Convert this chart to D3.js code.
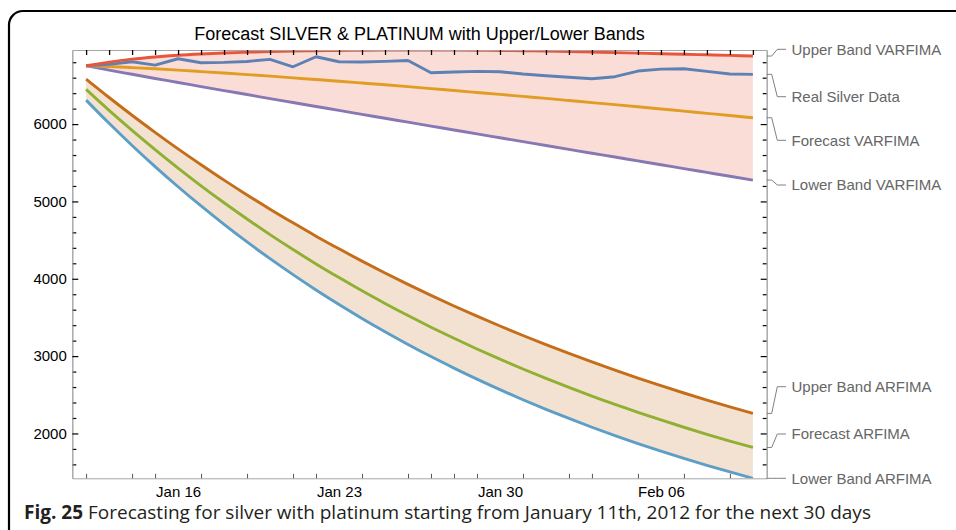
<!DOCTYPE html>
<html>
<head>
<meta charset="utf-8">
<script src="https://cdn.jsdelivr.net/npm/d3@7"></script>
<style>
  body { margin: 0; background: #fff; }
  svg { display: block; }
  text { font-family: "Liberation Sans", Arial, sans-serif; }
</style>
</head>
<body>
<svg id="chart" width="956" height="530"></svg>
<script>
// ---- data -------------------------------------------------------------
const dates = [
  "2012-01-12","2012-01-13","2012-01-14","2012-01-15","2012-01-16","2012-01-17",
  "2012-01-18","2012-01-19","2012-01-20","2012-01-21","2012-01-22","2012-01-23",
  "2012-01-24","2012-01-25","2012-01-26","2012-01-27","2012-01-28","2012-01-29",
  "2012-01-30","2012-01-31","2012-02-01","2012-02-02","2012-02-03","2012-02-04",
  "2012-02-05","2012-02-06","2012-02-07","2012-02-08","2012-02-09","2012-02-10"
];

const upperVarfima = [6754, 6802, 6840, 6868, 6890, 6906, 6919, 6929, 6937, 6943,
  6948, 6952, 6955, 6957, 6958, 6958, 6957, 6955, 6952, 6948,
  6943, 6937, 6931, 6924, 6917, 6910, 6903, 6896, 6888, 6880];
const realSilver = [6754, 6772, 6806, 6763, 6845, 6793, 6798, 6810, 6837, 6741,
  6871, 6806, 6802, 6811, 6823, 6664, 6673, 6681, 6677, 6647,
  6625, 6605, 6587, 6613, 6686, 6711, 6715, 6681, 6647, 6643];
const forecastVarfima = [6754, 6744, 6730, 6715, 6698, 6679, 6660, 6640, 6620, 6598,
  6576, 6554, 6531, 6508, 6484, 6459, 6434, 6409, 6384, 6358,
  6332, 6305, 6278, 6251, 6224, 6196, 6168, 6139, 6111, 6082];
const lowerVarfima = [6754, 6698, 6644, 6590, 6538, 6485, 6433, 6382, 6330, 6279,
  6228, 6177, 6126, 6075, 6025, 5974, 5924, 5873, 5823, 5773,
  5723, 5673, 5623, 5574, 5524, 5474, 5425, 5375, 5325, 5276];

const upperArfima = [6582, 6344, 6114, 5893, 5679, 5474, 5275, 5084, 4900, 4723,
  4551, 4387, 4228, 4075, 3928, 3785, 3648, 3516, 3389, 3266,
  3148, 3034, 2924, 2818, 2716, 2618, 2523, 2432, 2344, 2259];
const forecastArfima = [6449, 6178, 5919, 5670, 5431, 5202, 4983, 4773, 4571, 4378,
  4192, 4015, 3844, 3681, 3524, 3374, 3230, 3092, 2960, 2833,
  2711, 2595, 2483, 2375, 2273, 2174, 2080, 1989, 1902, 1819];
const lowerArfima = [6310, 6010, 5724, 5451, 5190, 4941, 4703, 4476, 4260, 4053,
  3855, 3667, 3487, 3315, 3151, 2994, 2845, 2702, 2566, 2436,
  2312, 2194, 2080, 1972, 1869, 1771, 1677, 1587, 1502, 1420];

const xLabelDates = ["2012-01-16", "2012-01-23", "2012-01-30", "2012-02-06"];
const xBottomTickDates = ["2012-01-12","2012-01-14","2012-01-15","2012-01-17","2012-01-19",
  "2012-01-21","2012-01-22","2012-01-24","2012-01-26","2012-01-27","2012-01-28",
  "2012-01-29","2012-01-31","2012-02-02","2012-02-03","2012-02-05","2012-02-07","2012-02-09"];
const yMajorTicks = [2000, 3000, 4000, 5000, 6000];
const yMinorTicks = [1600, 1800, 2200, 2400, 2600, 2800, 3200, 3400, 3600, 3800,
  4200, 4400, 4600, 4800, 5200, 5400, 5600, 5800, 6200, 6400, 6600, 6800];

const titleText = "Forecast SILVER & PLATINUM with Upper/Lower Bands";
const captionBold = "Fig. 25";
const captionText = " Forecasting for silver with platinum starting from January 11th, 2012 for the next 30 days";

// ---- layout -----------------------------------------------------------
const plot = { left: 72.3, right: 766.7, top: 50, bottom: 478.3 };
const parse = d3.utcParse("%Y-%m-%d");
const X = dates.map(parse);
const DAY = 864e5;

const x = d3.scaleUtc()
  .domain([+X[0] - 0.6 * DAY, +X[X.length - 1] + 0.6 * DAY])
  .range([plot.left, plot.right]);

const allValues = [].concat(upperVarfima, realSilver, forecastVarfima, lowerVarfima,
  upperArfima, forecastArfima, lowerArfima);
const y = d3.scaleLinear()
  .domain(d3.extent(allValues))
  .range([plot.bottom, plot.top]);

const svg = d3.select("#chart");

// outer rounded panel
svg.append("rect")
  .attr("x", 9).attr("y", 11).attr("width", 1100).attr("height", 600)
  .attr("rx", 14).attr("ry", 14)
  .attr("fill", "#fff").attr("stroke", "#000").attr("stroke-width", 2.2);

svg.append("defs").append("clipPath").attr("id", "plotClip")
  .append("rect")
  .attr("x", plot.left).attr("y", plot.top)
  .attr("width", plot.right - plot.left).attr("height", plot.bottom - plot.top);

const series = [
  { name: "Upper Band VARFIMA", values: upperVarfima, color: "#e9553a", labelY: 49.3 },
  { name: "Real Silver Data",   values: realSilver, color: "#5e81b5", labelY: 96.7 },
  { name: "Forecast VARFIMA",   values: forecastVarfima, color: "#e19c24", labelY: 140.3 },
  { name: "Lower Band VARFIMA", values: lowerVarfima, color: "#8778b3", labelY: 185 },
  { name: "Upper Band ARFIMA",  values: upperArfima, color: "#c56e1a", labelY: 386.7 },
  { name: "Forecast ARFIMA",    values: forecastArfima, color: "#8fb032", labelY: 434 },
  { name: "Lower Band ARFIMA",  values: lowerArfima, color: "#5d9ec7", labelY: 478.3 }
];

const bands = [
  { upper: upperVarfima, lower: lowerVarfima, color: "#e9553a" },
  { upper: upperArfima, lower: lowerArfima, color: "#c56e1a" }
];

const gPlot = svg.append("g").attr("clip-path", "url(#plotClip)");

// shaded bands
bands.forEach(b => {
  const area = d3.area()
    .x((d, i) => x(X[i]))
    .y0((d, i) => y(b.lower[i]))
    .y1((d, i) => y(b.upper[i]))
    .curve(d3.curveMonotoneX);
  gPlot.append("path")
    .datum(b.upper)
    .attr("d", area)
    .attr("fill", b.color)
    .attr("fill-opacity", 0.2);
});

// series lines (ARFIMA first, VARFIMA on top)
const drawOrder = [6, 5, 4, 3, 2, 1, 0];
drawOrder.forEach(k => {
  const s = series[k];
  const line = d3.line()
    .x((d, i) => x(X[i]))
    .y(d => y(d))
    .curve(s.name === "Real Silver Data" ? d3.curveLinear : d3.curveMonotoneX);
  gPlot.append("path")
    .datum(s.values)
    .attr("d", line)
    .attr("fill", "none")
    .attr("stroke", s.color)
    .attr("stroke-width", 2.9)
    .attr("stroke-linejoin", "round");
});

// ---- frame & ticks ----------------------------------------------------
const frameColor = "#a6a6a6";
function styleAxis(g, tickColor, tickWidth) {
  g.select(".domain").attr("stroke", frameColor).attr("stroke-width", 1);
  g.selectAll(".tick line").attr("stroke", tickColor).attr("stroke-width", tickWidth);
  g.selectAll(".tick text").attr("fill", "#000").style("font-size", "15px")
    .style("font-family", "'Liberation Sans', Arial, sans-serif");
}

// left
const gLeftMinor = svg.append("g").attr("transform", `translate(${plot.left},0)`)
  .call(d3.axisLeft(y).tickValues(yMinorTicks).tickSize(-4).tickSizeOuter(0).tickFormat(""));
styleAxis(gLeftMinor, "#000", 1.2);
const gLeft = svg.append("g").attr("transform", `translate(${plot.left},0)`)
  .call(d3.axisLeft(y).tickValues(yMajorTicks).tickSize(-6).tickSizeOuter(0)
    .tickPadding(5.5).tickFormat(d3.format("d")));
styleAxis(gLeft, "#000", 1.2);

// right
const gRightMinor = svg.append("g").attr("transform", `translate(${plot.right},0)`)
  .call(d3.axisRight(y).tickValues(yMinorTicks).tickSize(-4).tickSizeOuter(0).tickFormat(""));
styleAxis(gRightMinor, "#000", 1.2);
const gRight = svg.append("g").attr("transform", `translate(${plot.right},0)`)
  .call(d3.axisRight(y).tickValues(yMajorTicks).tickSize(-6).tickSizeOuter(0).tickFormat(""));
styleAxis(gRight, "#000", 1.2);

// top: one tick per day
const gTop = svg.append("g").attr("transform", `translate(0,${plot.top})`)
  .call(d3.axisTop(x).tickValues(X).tickSize(-5).tickSizeOuter(0).tickFormat(""));
styleAxis(gTop, "#000", 1.3);

// bottom: small ticks and week labels
const gBottom = svg.append("g").attr("transform", `translate(0,${plot.bottom})`)
  .call(d3.axisBottom(x).tickValues(xBottomTickDates.map(parse)).tickSize(-4.5)
    .tickSizeOuter(0).tickFormat(""));
styleAxis(gBottom, "#555", 1);
const gBottomLabels = svg.append("g").attr("transform", `translate(0,${plot.bottom})`)
  .call(d3.axisBottom(x).tickValues(xLabelDates.map(parse)).tickSize(0)
    .tickSizeOuter(0).tickPadding(8).tickFormat(d3.utcFormat("%b %d")));
styleAxis(gBottomLabels, "#000", 0);
gBottomLabels.select(".domain").remove();

// ---- series labels with leader lines ---------------------------------
const gLabels = svg.append("g");
series.forEach(s => {
  const yEnd = y(s.values[s.values.length - 1]);
  gLabels.append("polyline")
    .attr("points", [[plot.right, yEnd], [plot.right + 5, yEnd],
      [plot.right + 10.6, s.labelY], [plot.right + 19.3, s.labelY]].map(p => p.join(",")).join(" "))
    .attr("fill", "none").attr("stroke", "#808080").attr("stroke-width", 1);
  gLabels.append("text")
    .attr("x", plot.right + 24.8).attr("y", s.labelY)
    .attr("dy", "0.35em")
    .attr("fill", "#666")
    .style("font-size", "15px")
    .text(s.name);
});

// ---- title & caption -------------------------------------------------
svg.append("text")
  .attr("x", (plot.left + plot.right) / 2).attr("y", 40)
  .attr("text-anchor", "middle")
  .attr("fill", "#000")
  .style("font-size", "18px")
  .text(titleText);

const cap = svg.append("text")
  .attr("x", 24).attr("y", 519)
  .attr("fill", "#231f20")
  .style("font-family", "'Open Sans', 'Noto Sans', sans-serif")
  .style("font-size", "19px");
cap.append("tspan").style("font-weight", "bold").text(captionBold);
cap.append("tspan").text(captionText);
</script>
</body>
</html>
